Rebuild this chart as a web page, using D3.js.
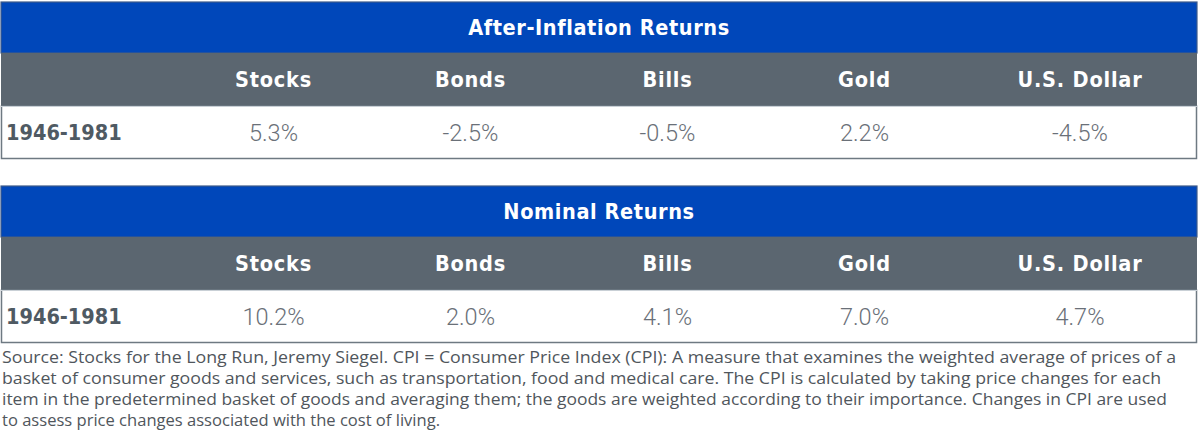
<!DOCTYPE html>
<html><head><meta charset="utf-8">
<script src="https://cdn.jsdelivr.net/npm/d3@7"></script>
<style>
html,body{margin:0;padding:0;background:#fff;}
svg{display:block;}
</style></head>
<body>
<svg id="chart" width="1200" height="444"></svg>
<script>
// ---- data ----
const tableTitles = ["After-Inflation Returns", "Nominal Returns"];
const categories = ["Stocks", "Bonds", "Bills", "Gold", "U.S. Dollar"];
const periodLabels = ["1946-1981", "1946-1981"];
const afterInflation = ["5.3%", "-2.5%", "-0.5%", "2.2%", "-4.5%"];
const nominal = ["10.2%", "2.0%", "4.1%", "7.0%", "4.7%"];
const footnoteLines = [
  "Source: Stocks for the Long Run, Jeremy Siegel. CPI = Consumer Price Index (CPI): A measure that examines the weighted average of prices of a",
  "basket of consumer goods and services, such as transportation, food and medical care. The CPI is calculated by taking price changes for each",
  "item in the predetermined basket of goods and averaging them; the goods are weighted according to their importance. Changes in CPI are used",
  "to assess price changes associated with the cost of living."
];

// ---- layout ----
const svg = d3.select("#chart");
const BLUE = "#0047ba", GREY = "#5b6670", BORDER = "#6e7982";
const left = 1, right = 1197;
const firstColW = 174;
const x = d3.scaleBand().domain(categories).range([left + firstColW, left + firstColW + 197 * categories.length]);
const colCenter = (d, i) => i === categories.length - 1 ? (x(d) + right) / 2 : x(d) + x.bandwidth() / 2;
const BOLD = "'DejaVu Sans Condensed', 'DejaVu Sans'";

const tables = [
  {title: tableTitles[0], label: periodLabels[0], values: afterInflation, top: 2},
  {title: tableTitles[1], label: periodLabels[1], values: nominal, top: 186}
];
const bandH = [51, 53, 53];

tables.forEach(t => {
  const g = svg.append("g").attr("transform", `translate(0,${t.top})`);
  const y1 = bandH[0], y2 = y1 + bandH[1];
  g.append("rect").attr("x", left).attr("y", 0).attr("width", right - left).attr("height", y1)
    .attr("fill", BLUE).attr("stroke", "#3d5a8a").attr("stroke-width", 1.2);
  g.append("rect").attr("x", left).attr("y", y1).attr("width", right - left).attr("height", bandH[1])
    .attr("fill", GREY);
  g.append("rect").attr("x", left + 0.5).attr("y", y2).attr("width", right - left - 1).attr("height", bandH[2] - 0.5)
    .attr("fill", "#fff").attr("stroke", BORDER).attr("stroke-width", 1.5);
  g.append("line").attr("x1", left).attr("x2", right).attr("y1", y2 + 0.5).attr("y2", y2 + 0.5)
    .attr("stroke", "#c9d0d6").attr("stroke-width", 1);

  g.append("text").attr("x", (left + right) / 2).attr("y", y1 / 2 - 0.5)
    .attr("text-anchor", "middle").attr("dominant-baseline", "central")
    .attr("font-family", BOLD).attr("font-weight", "bold")
    .attr("font-size", 21.5).attr("letter-spacing", 0.6).attr("fill", "#fff").text(t.title);

  g.selectAll("text.hdr").data(categories).join("text").attr("class", "hdr")
    .attr("x", colCenter).attr("y", y1 + bandH[1] / 2 - 0.5)
    .attr("text-anchor", "middle").attr("dominant-baseline", "central")
    .attr("font-family", BOLD).attr("font-weight", "bold")
    .attr("font-size", 21.5).attr("letter-spacing", 0.8).attr("fill", "#fff").text(d => d);

  g.append("text").attr("x", 6).attr("y", y2 + bandH[2] / 2)
    .attr("dominant-baseline", "central")
    .attr("font-family", BOLD).attr("font-weight", "bold")
    .attr("font-size", 21.5).attr("fill", "#4f5a63").text(t.label);

  g.selectAll("text.val").data(t.values).join("text").attr("class", "val")
    .attr("x", (d, i) => colCenter(categories[i], i)).attr("y", y2 + bandH[2] / 2)
    .attr("text-anchor", "middle").attr("dominant-baseline", "central")
    .attr("font-family", "Roboto").attr("font-weight", 300)
    .attr("font-size", 23.5).attr("fill", "#6a7078").text(d => d);
});

// footnote
const footEnds = [1176, 1161, 1167, 440];
svg.selectAll("text.foot").data(footnoteLines).join("text").attr("class", "foot")
  .attr("x", 2).attr("y", (d, i) => 363 + i * 21)
  .attr("font-family", "'Open Sans'").attr("font-size", 16.5).attr("fill", "#50565c")
  .attr("textLength", (d, i) => footEnds[i] - 2).attr("lengthAdjust", "spacingAndGlyphs")
  .text(d => d);
</script>
</body></html>
